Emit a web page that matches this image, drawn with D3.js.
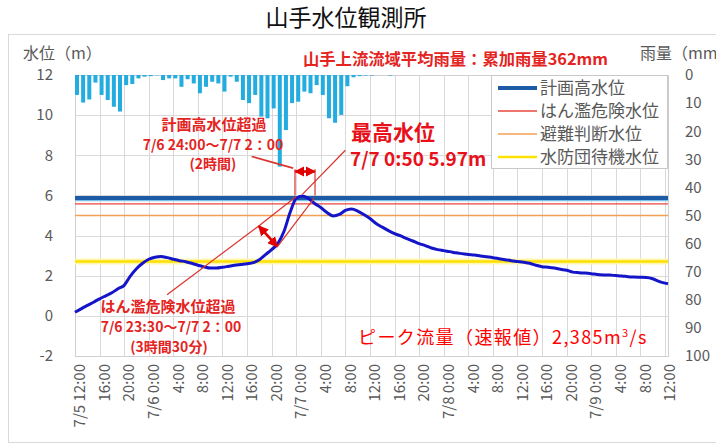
<!DOCTYPE html>
<html><head><meta charset="utf-8">
<script src="https://cdn.jsdelivr.net/npm/d3@7/dist/d3.min.js"></script>
<style>
body{margin:0;background:#fff;}
svg text{font-family:"Noto Sans CJK JP","Noto Sans",sans-serif;}
</style>
</head><body>
<svg id="c" width="716" height="446"></svg>
<script>
// ---------- data ----------
const title = "山手水位観測所";
const rainTitle = "山手上流流域平均雨量：累加雨量362mm";
const tickHours = [0,4,8,12,16,20,24,28,32,36,40,44,48,52,56,60,64,68,72,76,80,84,88,92,96];
const tickLabels = ["7/5 12:00","16:00","20:00","7/6 0:00","4:00","8:00","12:00","16:00","20:00",
  "7/7 0:00","4:00","8:00","12:00","16:00","20:00","7/8 0:00","4:00","8:00","12:00","16:00","20:00",
  "7/9 0:00","4:00","8:00","12:00"];
const leftTicks = [-2,0,2,4,6,8,10,12];
const rightTicks = [0,10,20,30,40,50,60,70,80,90,100];
// water level (m), hours since 7/5 12:00
const levelHours = [0,1,2,3,4,5,6,7,8,9,10,11,12,13,14,15,16,17,18,19,20,21,22,23,24,25,26,27,28,29,30,
  31,32,33,34,35,36,37,38,39,40,41,42,43,44,45,46,47,48,49,50,51,52,53,54,55,56,57,58,59,60,
  61,62,63,64,65,66,67,68,69,70,71,72,73,74,75,76,77,78,79,80,81,82,83,84,85,86,87,88,89,90,
  91,92,93,94,95,96,96.5];
const levelValues = [0.18,0.35,0.52,0.68,0.85,1.0,1.15,1.35,1.52,1.98,2.35,2.62,2.82,2.92,2.96,2.9,2.82,2.75,2.7,2.62,2.52,
  2.44,2.38,2.38,2.42,2.47,2.52,2.56,2.6,2.65,2.8,3.05,3.3,3.6,4.2,5.15,5.85,5.97,5.85,5.6,5.4,
  5.15,4.98,5.05,5.25,5.32,5.22,5.05,4.85,4.6,4.42,4.25,4.1,3.98,3.85,3.73,3.6,3.5,3.38,3.3,3.25,
  3.2,3.14,3.1,3.06,3.03,2.98,2.94,2.9,2.85,2.8,2.75,2.71,2.67,2.62,2.52,2.45,2.42,2.38,2.32,2.27,
  2.18,2.15,2.13,2.1,2.06,2.04,2.03,2.01,1.99,1.95,1.93,1.92,1.91,1.85,1.72,1.63,1.6];
// hourly basin rainfall (mm)
const rainHours = [0,1,2,3,4,5,6,7,8,9,10,11,12,13,14,15,16,17,18,19,20,21,22,23,24,25,
  26,27,28,29,30,31,32,33,34,35,36,37,38,39,40,41,42,43,44,45,46,47,48,49,50,51];
const rainValues = [7.1,9.8,8.7,2.7,7.1,8.9,11.3,13.0,3.6,3.2,1.2,0.6,0.4,0.1,1.8,1.2,1.2,4.2,1.5,3.0,6.5,4.2,2.4,3.0,5.9,0.6,
  2.4,8.9,10.0,7.1,14.8,15.4,11.9,32.6,19.6,10.0,9.5,5.9,6.5,3.6,7.1,15.4,17.0,14.2,4.0,0.8,0.4,0.2,0.2,0,0,0.2];
const refNames = ["計画高水位","はん濫危険水位","避難判断水位","水防団待機水位"];
const refValues = [5.87,5.58,5.0,2.71];

// ---------- drawing ----------
const svg = d3.select("#c");
const x = d3.scaleLinear().domain([0,96.5]).range([75,668]);
const y = d3.scaleLinear().domain([-2,12]).range([356,75]);
const yR = d3.scaleLinear().domain([0,100]).range([75,356]);
const grey = "#595959", red = "#e3241f";

// outer frame
svg.append("rect").attr("x",8.5).attr("y",34.5).attr("width",740).attr("height",408)
  .attr("fill","none").attr("stroke","#d9d9d9");

// title
svg.append("text").attr("x",346).attr("y",26).attr("text-anchor","middle")
  .attr("font-size",23).attr("fill","#111").text(title);

// gridlines
const grid = svg.append("g").attr("stroke","#d9d9d9").attr("stroke-width",1);
grid.selectAll(".h").data(leftTicks).join("line")
  .attr("x1",x(0)).attr("x2",x(96.5)).attr("y1",d=>Math.round(y(d))+0.5).attr("y2",d=>Math.round(y(d))+0.5);
grid.selectAll(".v").data(tickHours).join("line")
  .attr("x1",d=>Math.round(x(d))+0.5).attr("x2",d=>Math.round(x(d))+0.5).attr("y1",y(12)).attr("y2",y(-2));
svg.append("rect").attr("x",x(0)+0.5).attr("y",y(12)+0.5).attr("width",x(96.5)-x(0)).attr("height",y(-2)-y(12))
  .attr("fill","none").attr("stroke","#cfcfcf");

// rain bars
const bw = (x(1)-x(0))*0.65;
svg.append("g").selectAll("rect").data(rainHours).join("rect")
  .attr("x",(d)=>x(d)).attr("width",bw)
  .attr("y",yR(0)).attr("height",(d,i)=>yR(rainValues[i])-yR(0))
  .attr("fill","#22ace0");

// reference lines
const refStyle = [
  {c:"#1d5ba6",w:4},{c:"#e8463e",w:1.4},{c:"#f2a055",w:1.3},{c:"#ffe100",w:2.6}];
svg.append("line").attr("x1",x(0)).attr("x2",x(96.5)).attr("y1",y(refValues[0])+2.5).attr("y2",y(refValues[0])+2.5)
  .attr("stroke","#7cc0ea").attr("stroke-width",1.2);
svg.append("line").attr("x1",x(0)).attr("x2",x(96.5)).attr("y1",y(refValues[3])).attr("y2",y(refValues[3]))
  .attr("stroke","#fff7b0").attr("stroke-width",6);
svg.append("g").selectAll("line").data(refValues).join("line")
  .attr("x1",x(0)).attr("x2",x(96.5)).attr("y1",d=>y(d)).attr("y2",d=>y(d))
  .attr("stroke",(d,i)=>refStyle[i].c).attr("stroke-width",(d,i)=>refStyle[i].w);

// water level line
const line = d3.line().x((d,i)=>x(levelHours[i])).y(d=>y(d)).curve(d3.curveMonotoneX);
svg.append("path").datum(levelValues).attr("d",line).attr("fill","none")
  .attr("stroke","#1414c8").attr("stroke-width",3).attr("stroke-linejoin","round");

// axes
const ax = svg.append("g").attr("transform",`translate(${x(0)},0)`)
  .call(d3.axisLeft(y).tickValues(leftTicks).tickSize(0).tickPadding(22).tickFormat(d=>String(d)));
const ar = svg.append("g").attr("transform",`translate(${x(96.5)},0)`)
  .call(d3.axisRight(yR).tickValues(rightTicks).tickSize(0).tickPadding(17).tickFormat(d=>String(d)));
const ab = svg.append("g").attr("transform",`translate(0,${y(-2)})`)
  .call(d3.axisBottom(x).tickValues(tickHours).tickSize(0).tickFormat((d,i)=>tickLabels[i]));
[ax,ar,ab].forEach(g=>{g.select(".domain").remove();
  g.selectAll("text").attr("fill",grey).attr("font-size",15).attr("font-family",'"Noto Sans CJK JP",sans-serif');});
ab.selectAll("text").attr("transform","rotate(-90)").attr("text-anchor","end")
  .attr("x",-8).attr("y",4.5).attr("dy","0.35em");

// axis titles
svg.append("text").attr("x",23).attr("y",59).attr("font-size",16).attr("fill",grey).text("水位（m）");
svg.append("text").attr("x",640).attr("y",59).attr("font-size",16).attr("fill",grey).text("雨量（mm");
svg.append("text").attr("x",303).attr("y",65).attr("font-size",16).attr("font-weight","bold")
  .attr("fill",red).attr("textLength",305).attr("lengthAdjust","spacingAndGlyphs").text(rainTitle);

// legend
const lg = svg.append("g");
lg.append("rect").attr("x",491.5).attr("y",75.5).attr("width",176).attr("height",93)
  .attr("fill","#fff").attr("stroke","#c8c8c8");
const rowY = [88,111,134,157];
refNames.forEach((n,i)=>{
  lg.append("line").attr("x1",498).attr("x2",537).attr("y1",rowY[i]).attr("y2",rowY[i])
    .attr("stroke",refStyle[i].c).attr("stroke-width",refStyle[i].w);
  lg.append("text").attr("x",540).attr("y",rowY[i]+6).attr("font-size",17).attr("fill",grey).text(n);
});

// annotations
const defs = svg.append("defs");
defs.append("marker").attr("id","ah").attr("viewBox","0 0 10 10").attr("refX",9).attr("refY",5)
  .attr("markerWidth",4).attr("markerHeight",4).attr("orient","auto-start-reverse")
  .append("path").attr("d","M0,0L10,5L0,10Z").attr("fill","#e00000");
const ann = svg.append("g");
function seg(h1,v1,h2,v2,w,c,arrows){
  const l = ann.append("line").attr("x1",x(h1)).attr("y1",y(v1)).attr("x2",x(h2)).attr("y2",y(v2))
    .attr("stroke",c||"#d8342c").attr("stroke-width",w||1.2);
  if(arrows){l.attr("marker-start","url(#ah)").attr("marker-end","url(#ah)");}
}
// plan-high exceedance
seg(28.75,7.94,35.5,7.36,1.6);
seg(35.8,7.19,39.06,7.19,2.6,"#e00000",true);
seg(35.8,7.3,35.8,6.0,1.2);
seg(39.06,7.3,39.06,6.0,1.2);
// flood-danger exceedance
seg(14.97,1.05,29.9,4.48,1.2);
seg(29.9,4.48,32.95,3.45,2.6,"#e00000",true);
seg(29.9,4.48,36.0,5.95,1.2);
seg(32.95,3.45,38.9,5.85,1.2);
// peak leader
seg(37.0,6.05,44.0,8.25,1.2);

function txt(xp,yp,s,size,weight,fill){
  return svg.append("text").attr("x",xp).attr("y",yp).attr("text-anchor","middle").attr("font-size",size)
    .attr("font-weight",weight||"bold").attr("fill",fill||red).text(s);
}
txt(214,130,"計画高水位超過",15);
txt(213,150,"7/6 24:00～7/7 2：00",14);
txt(213,169,"(2時間)",14);
txt(168,312,"はん濫危険水位超過",15);
txt(171,332,"7/6 23:30～7/7 2：00",14);
txt(169,352,"(3時間30分)",14);
svg.append("text").attr("x",351).attr("y",140).attr("font-size",21).attr("font-weight","bold").attr("fill","#e8101a").text("最高水位");
svg.append("text").attr("x",350).attr("y",166).attr("font-size",19).attr("font-weight","bold").attr("fill","#e8101a").text("7/7 0:50 5.97m");
const pk = svg.append("text").attr("x",358).attr("y",344).attr("font-size",18).attr("fill","#ff0000")
  .attr("letter-spacing",1.4);
pk.append("tspan").text("ピーク流量（速報値）2,385m");
pk.append("tspan").attr("font-size",11).attr("dy",-7).text("3");
pk.append("tspan").attr("dy",7).text("/s");
</script>
</body></html>
